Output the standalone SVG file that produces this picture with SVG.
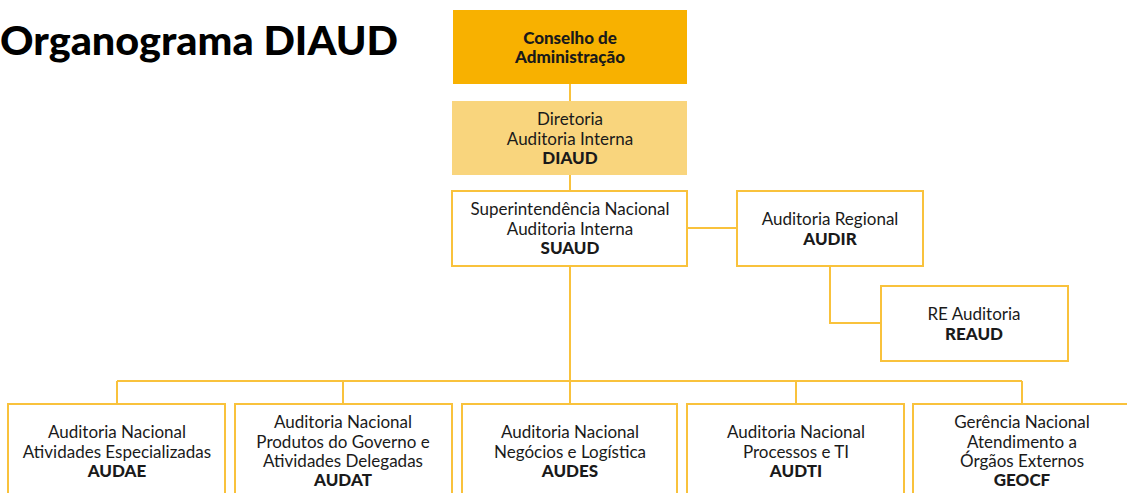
<svg xmlns="http://www.w3.org/2000/svg" width="1127" height="493" viewBox="0 0 1127 493">
<style>
.box{fill:#ffffff;stroke:#F9C23C;stroke-width:2}
.conn{fill:none;stroke:#F9C23C;stroke-width:2}
text{font-family:"Lato","Liberation Sans",sans-serif;font-size:17px;fill:#1a1a1a;text-anchor:middle;dominant-baseline:central}
.b{font-weight:900}
.title{font-family:"Lato","Liberation Sans",sans-serif;font-size:40px;font-weight:900;text-anchor:start;dominant-baseline:auto;fill:#000}
</style>
<rect width="1127" height="493" fill="#ffffff"/>
<text class="title" x="0" y="55" textLength="398" lengthAdjust="spacingAndGlyphs">Organograma DIAUD</text>
<g id="connectors">
<line class="conn" x1="570" y1="84" x2="570" y2="101"/>
<line class="conn" x1="570" y1="175" x2="570" y2="191"/>
<line class="conn" x1="687" y1="228" x2="737" y2="228"/>
<polyline class="conn" points="830,266 830,323 881,323"/>
<line class="conn" x1="570" y1="266" x2="570" y2="381"/>
<line class="conn" x1="117" y1="381" x2="1022" y2="381"/>
<line class="conn" x1="117" y1="381" x2="117" y2="404"/>
<line class="conn" x1="343" y1="381" x2="343" y2="404"/>
<line class="conn" x1="570" y1="381" x2="570" y2="404"/>
<line class="conn" x1="796" y1="381" x2="796" y2="404"/>
<line class="conn" x1="1022" y1="381" x2="1022" y2="404"/>
</g>
<g id="conselho">
<rect x="453" y="10" width="234" height="74" fill="#F8B100"/>
<text class="b" x="570" y="37">Conselho de</text>
<text class="b" x="570" y="56">Administração</text>
</g>
<g id="diaud">
<rect x="452" y="101" width="235" height="74" fill="#F9D57D"/>
<text x="570" y="118">Diretoria</text>
<text x="570" y="138">Auditoria Interna</text>
<text class="b" x="570" y="157">DIAUD</text>
</g>
<g id="suaud">
<rect class="box" x="452" y="191" width="235" height="75"/>
<text x="570" y="208">Superintendência Nacional</text>
<text x="570" y="228">Auditoria Interna</text>
<text class="b" x="570" y="247">SUAUD</text>
</g>
<g id="audir">
<rect class="box" x="737" y="191" width="186" height="75"/>
<text x="830" y="218">Auditoria Regional</text>
<text class="b" x="830" y="238">AUDIR</text>
</g>
<g id="reaud">
<rect class="box" x="881" y="286" width="187" height="75"/>
<text x="974" y="313">RE Auditoria</text>
<text class="b" x="974" y="333">REAUD</text>
</g>
<g id="audae">
<rect class="box" x="8" y="404" width="217" height="100"/>
<text x="117" y="431">Auditoria Nacional</text>
<text x="117" y="451">Atividades Especializadas</text>
<text class="b" x="117" y="470">AUDAE</text>
</g>
<g id="audat">
<rect class="box" x="235" y="404" width="217" height="100"/>
<text x="343" y="421">Auditoria Nacional</text>
<text x="343" y="441">Produtos do Governo e</text>
<text x="343" y="460">Atividades Delegadas</text>
<text class="b" x="343" y="479">AUDAT</text>
</g>
<g id="audes">
<rect class="box" x="462" y="404" width="215" height="100"/>
<text x="570" y="431">Auditoria Nacional</text>
<text x="570" y="451">Negócios e Logística</text>
<text class="b" x="570" y="470">AUDES</text>
</g>
<g id="audti">
<rect class="box" x="687" y="404" width="217" height="100"/>
<text x="796" y="431">Auditoria Nacional</text>
<text x="796" y="451">Processos e TI</text>
<text class="b" x="796" y="470">AUDTI</text>
</g>
<g id="geocf">
<rect class="box" x="913" y="404" width="220" height="100"/>
<text x="1022" y="421">Gerência Nacional</text>
<text x="1022" y="441">Atendimento a</text>
<text x="1022" y="460">Órgãos Externos</text>
<text class="b" x="1022" y="479">GEOCF</text>
</g>
</svg>
